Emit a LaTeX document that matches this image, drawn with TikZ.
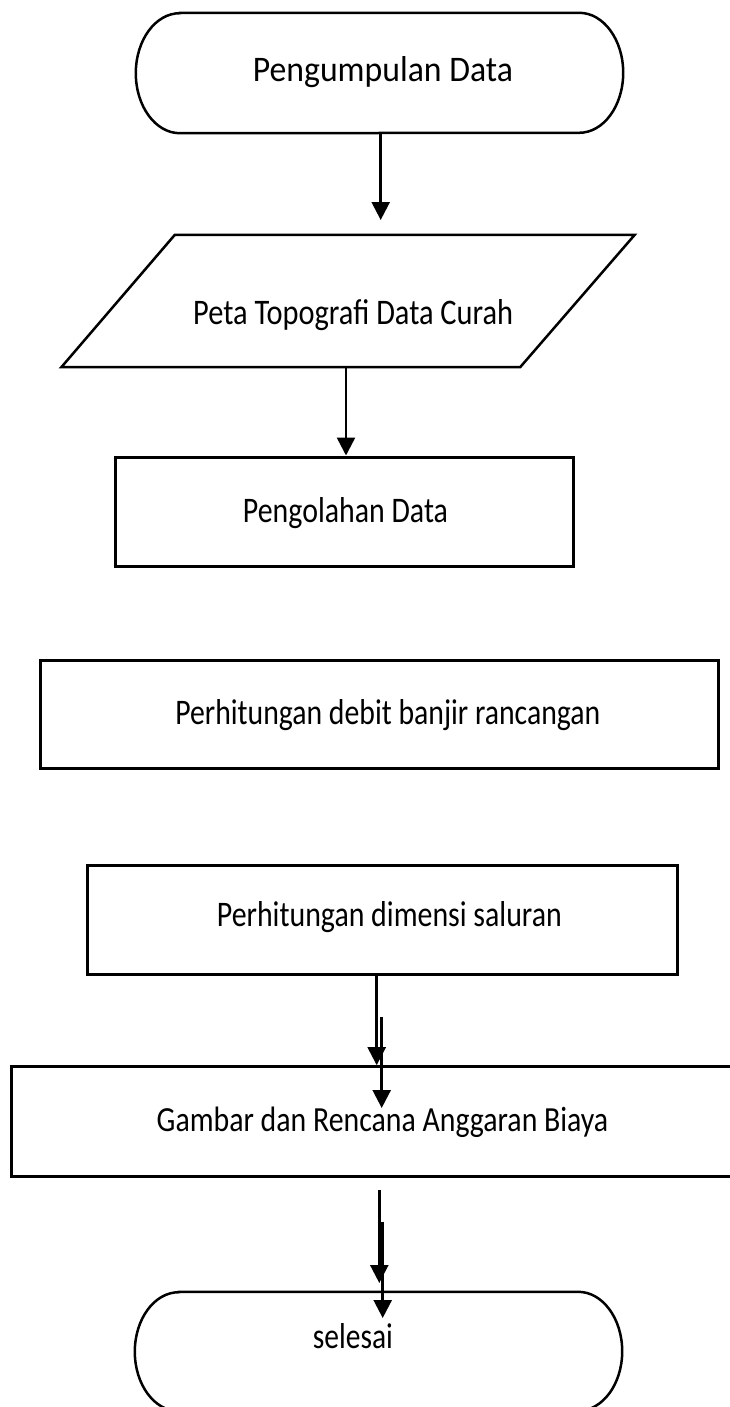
\documentclass[tikz,border=0pt]{standalone}
\usepackage{fontspec}
\usepackage{graphicx}
\setmainfont{Carlito}
\usetikzlibrary{arrows.meta,calc}
\newcommand\fittxt[3]{\resizebox{#1pt}{#2pt}{#3}}
\begin{document}
\begin{tikzpicture}[x=1pt,y=-1pt,
  proc/.style={draw=black, line width=3pt, inner sep=0pt, rectangle},
  termbox/.style={inner sep=0pt, rectangle},
  outline/.style={draw=black, line width=2.5pt},
  lbl/.style={inner sep=0pt, anchor=base},
  arr/.style={line width=2.5pt, -{Triangle[width=18pt,length=18pt]}}]
\useasboundingbox[fill=white] (0,0) rectangle (730,1407);
\clip (0,0) rectangle (730,1407);
% shapes
\node[termbox, minimum width=487pt, minimum height=120pt] (t1) at (379.5,73) {};
\draw[outline] ([xshift=44pt]t1.north west) -- ([xshift=-44pt]t1.north east)
  arc[start angle=90, end angle=-90, x radius=44pt, y radius=60pt]
  -- ([xshift=44pt]t1.south west)
  arc[start angle=270, end angle=90, x radius=44pt, y radius=60pt] -- cycle;
\node[inner sep=0pt, minimum width=573pt, minimum height=132pt] (para) at (348.05,301) {};
\draw[outline] ([xshift=113.5pt]para.north west) -- (para.north east) -- ([xshift=-114.6pt]para.south east) -- (para.south west) -- cycle;
\node[proc, minimum width=458pt, minimum height=109pt] (r1) at (344,511.5) {};
\node[proc, minimum width=678.6pt, minimum height=108pt] (r2) at (379.3,714) {};
\node[proc, minimum width=590.6pt, minimum height=109pt] (r3) at (382.3,919.5) {};
\node[proc, minimum width=723.3pt, minimum height=109.3pt] (r4) at (373.35,1121.35) {};
\node[termbox, minimum width=487pt, minimum height=119pt] (t2) at (378.5,1351.5) {};
\draw[outline] ([xshift=44pt]t2.north west) -- ([xshift=-44pt]t2.north east)
  arc[start angle=90, end angle=-90, x radius=44pt, y radius=59.5pt]
  -- ([xshift=44pt]t2.south west)
  arc[start angle=270, end angle=90, x radius=44pt, y radius=59.5pt] -- cycle;
% labels
\node[lbl] (t1l) at (382.9,81.3) {\fittxt{260}{25}{Pengumpulan Data}};
\node[lbl] (paral) at (353.2,324) {\fittxt{320}{25}{Peta Topografi Data Curah}};
\node[lbl] (r1l) at (345.5,522) {\fittxt{205}{25}{Pengolahan Data}};
\node[lbl] (r2l) at (387.8,724) {\fittxt{425}{25}{Perhitungan debit banjir rancangan}};
\node[lbl] (r3l) at (389.4,926.7) {\fittxt{345}{25}{Perhitungan dimensi saluran}};
\node[lbl] (r4l) at (382.5,1131.7) {\fittxt{451.5}{24.5}{Gambar dan Rencana Anggaran Biaya}};
\node[lbl] (t2l) at (352.9,1348.7) {\fittxt{80}{25}{selesai}};
% connectors
\coordinate (a1e) at (380.7,220);
\draw[arr] (t1.south -| a1e) -- (a1e);
\coordinate (x2) at (346,0);
\draw[arr] (para.south -| x2) -- (r1.north -| x2);
\coordinate (x3) at (376.7,0);
\draw[arr] (r3.south -| x3) -- (r4.north -| x3);
\coordinate (b1s) at (381.7,1016.7);
\coordinate (b1e) at (381.7,1108);
\draw[arr] (b1s) -- (b1e);
\coordinate (a2s) at (379.3,1190);
\coordinate (a2e) at (379.3,1283);
\draw[arr] (a2s) -- (a2e);
\coordinate (b2s) at (382.7,1221.7);
\coordinate (b2e) at (382.7,1318);
\draw[arr] (b2s) -- (b2e);
\end{tikzpicture}
\end{document}
